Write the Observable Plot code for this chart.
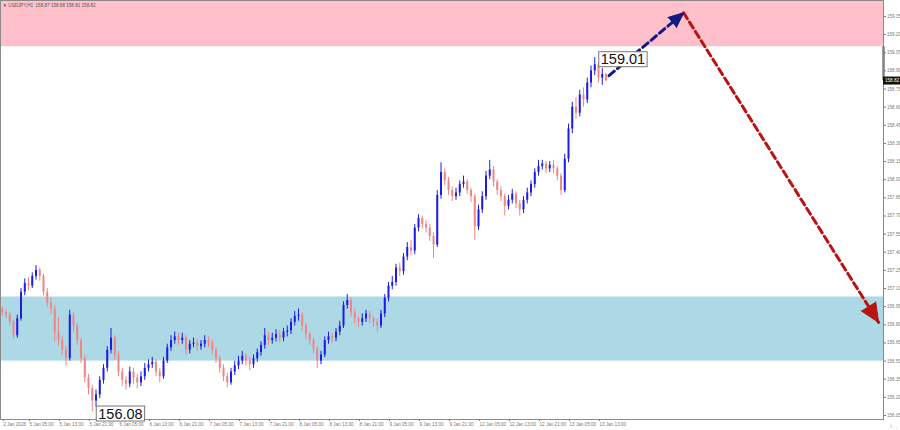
<!DOCTYPE html>
<html><head><meta charset="utf-8">
<script src="https://cdn.jsdelivr.net/npm/d3@7"></script>
<script src="https://cdn.jsdelivr.net/npm/@observablehq/plot@0.6"></script>
<style>
html,body{margin:0;padding:0;background:#fff;}
#chart{width:900px;height:430px;overflow:hidden;position:relative;}
#chart svg{font-family:"Liberation Sans",Arial,sans-serif;}
</style>
</head><body><div id="chart"></div>
<script>
// ---------- data ----------
const symbolTitle = "USDJPY,H1";
const firstOpen = 156.93;
const closes = [
156.90,156.88,156.82,156.71,156.85,157.07,157.14,157.12,157.20,157.25,
157.20,157.07,156.98,156.93,156.74,156.67,156.59,156.52,156.88,156.79,
156.67,156.52,156.36,156.27,156.17,156.22,156.34,156.44,156.59,156.69,
156.55,156.41,156.34,156.31,156.41,156.36,156.32,156.37,156.44,156.47,
156.49,156.41,156.37,156.50,156.61,156.67,156.70,156.67,156.69,156.59,
156.64,156.65,156.62,156.64,156.67,156.65,156.59,156.52,156.44,156.37,
156.32,156.41,156.46,156.50,156.54,156.50,156.47,156.52,156.57,156.63,
156.71,156.67,156.69,156.72,156.69,156.74,156.75,156.82,156.87,156.88,
156.79,156.72,156.67,156.60,156.50,156.55,156.67,156.70,156.69,156.74,
156.79,156.96,157.00,156.90,156.85,156.82,156.85,156.89,156.85,156.82,
156.79,156.89,157.02,157.12,157.15,157.27,157.24,157.36,157.44,157.41,
157.60,157.68,157.63,157.60,157.53,157.46,157.87,158.06,157.99,157.91,
157.86,157.89,157.96,157.98,157.91,157.86,157.61,157.75,157.86,158.03,
158.08,157.98,157.91,157.86,157.78,157.83,157.88,157.80,157.75,157.83,
157.89,157.96,158.06,158.11,158.13,158.09,158.12,158.09,158.03,157.91,
158.17,158.42,158.60,158.55,158.70,158.66,158.80,158.90,158.95,158.84,
158.87,158.82
];
const highs = [
156.95,156.92,156.90,156.84,156.88,157.10,157.18,157.19,157.23,157.29,
157.27,157.22,157.10,157.02,156.96,156.86,156.70,156.62,156.92,156.90,
156.81,156.69,156.55,156.39,156.30,156.26,156.37,156.47,156.62,156.77,
156.71,156.58,156.44,156.37,156.45,156.44,156.39,156.41,156.48,156.51,
156.53,156.51,156.44,156.53,156.64,156.71,156.74,156.73,156.73,156.71,
156.67,156.69,156.68,156.67,156.71,156.70,156.67,156.61,156.54,156.47,
156.40,156.44,156.50,156.54,156.58,156.56,156.53,156.55,156.60,156.66,
156.77,156.74,156.73,156.76,156.75,156.77,156.79,156.85,156.91,156.93,
156.90,156.81,156.74,156.69,156.62,156.58,156.70,156.74,156.73,156.77,
156.83,156.99,157.05,157.02,156.93,156.87,156.89,156.92,156.91,156.87,
156.85,156.92,157.05,157.15,157.20,157.30,157.31,157.39,157.48,157.50,
157.63,157.71,157.70,157.66,157.63,157.56,157.91,158.14,158.09,158.02,
157.94,157.93,157.99,158.03,158.00,157.93,157.88,157.79,157.90,158.07,
158.16,158.11,158.00,157.94,157.88,157.87,157.92,157.90,157.83,157.86,
157.93,157.99,158.09,158.16,158.16,158.15,158.15,158.16,158.11,158.05,
158.21,158.46,158.64,158.68,158.74,158.76,158.84,158.94,159.01,158.97,
158.92,158.88
];
const lows = [
156.87,156.85,156.79,156.68,156.69,156.83,157.04,157.08,157.10,157.17,
157.16,157.04,156.95,156.88,156.66,156.62,156.55,156.46,156.50,156.74,
156.63,156.48,156.32,156.22,156.08,156.12,156.19,156.31,156.41,156.56,
156.51,156.37,156.29,156.26,156.28,156.31,156.27,156.29,156.34,156.41,
156.44,156.37,156.32,156.35,156.48,156.58,156.64,156.63,156.64,156.55,
156.56,156.61,156.58,156.59,156.61,156.61,156.55,156.48,156.40,156.33,
156.28,156.30,156.38,156.43,156.47,156.46,156.42,156.44,156.49,156.54,
156.60,156.63,156.64,156.66,156.65,156.66,156.70,156.72,156.79,156.83,
156.75,156.68,156.63,156.56,156.44,156.47,156.53,156.64,156.65,156.66,
156.71,156.77,156.93,156.86,156.81,156.78,156.79,156.82,156.81,156.78,
156.74,156.77,156.86,156.99,157.09,157.12,157.20,157.21,157.33,157.37,
157.38,157.57,157.59,157.56,157.49,157.35,157.44,157.84,157.95,157.87,
157.82,157.83,157.86,157.93,157.88,157.81,157.50,157.58,157.72,157.83,
158.00,157.94,157.87,157.82,157.70,157.75,157.80,157.76,157.70,157.72,
157.80,157.86,157.93,158.03,158.08,158.05,158.06,158.05,157.99,157.87,
157.89,158.14,158.38,158.50,158.52,158.60,158.63,158.76,158.86,158.80,
158.78,158.81
];
const timeLabels = ["2 Jan 2026","5 Jan 05:00","5 Jan 13:00","5 Jan 21:00","6 Jan 05:00","6 Jan 13:00","6 Jan 21:00","7 Jan 05:00","7 Jan 13:00","7 Jan 21:00","8 Jan 05:00","8 Jan 13:00","8 Jan 21:00","9 Jan 05:00","9 Jan 13:00","9 Jan 21:00","12 Jan 05:00","12 Jan 13:00","12 Jan 21:00","13 Jan 05:00","13 Jan 13:00"];
const timeLabelBar = [0,7,15,23,31,39,47,55,63,71,79,87,95,103,111,119,127,135,143,151,159];
const priceTicks = [156.05,156.20,156.35,156.50,156.65,156.80,156.95,157.10,157.25,157.40,157.55,157.70,157.85,158.00,158.15,158.30,158.45,158.60,158.75,158.90,159.05,159.20,159.35];
const resistanceZone = [159.10, 159.48];
const supportZone = [156.50, 157.03];
const forecastBar = [161.8, 181.7, 233.7];
const forecastPrice = [158.86, 159.38, 156.82];

// ---------- layout & style ----------
const W = 900, H = 430, mRight = 17, mBottom = 11;
const xDomain = [-0.47, 235];
const yDomain = [156.017, 159.482];
const bullColor = "#1c1ce6", bearColor = "#f08585";
const upArrowColor = "#141a80", downArrowColor = "#b81414";
const small = 4.6;
const bigFont = 14.5;

const candles = closes.map((c, i) => ({i, open: i === 0 ? firstOpen : closes[i - 1], high: highs[i], low: lows[i], close: c}));
const bull = candles.filter(d => d.close >= d.open);
const bear = candles.filter(d => d.close < d.open);
const last = candles[candles.length - 1];

let hi = candles[0], lo = candles[0];
for (const d of candles) { if (d.high > hi.high) hi = d; if (d.low < lo.low) lo = d; }
const extremes = [{i: hi.i, p: hi.high, low: false}, {i: lo.i, p: lo.low, low: true}];

const xs = Plot.scale({x: {domain: xDomain, range: [0, W - mRight]}});
const ys = Plot.scale({y: {domain: yDomain, range: [H - mBottom, 0]}});
const heading = (a, b) => Math.atan2(xs.apply(b.i) - xs.apply(a.i), -(ys.apply(b.p) - ys.apply(a.p))) * 180 / Math.PI;
const fc = forecastBar.map((i, k) => ({i, p: forecastPrice[k]}));
const upSeg = [fc[0], fc[1]], downSeg = [fc[1], fc[2]];
const upHead = [{...fc[1], rot: heading(fc[0], fc[1])}];
const downHead = [{...fc[2], rot: heading(fc[1], fc[2])}];

const titleText = `▼ ${symbolTitle}  ${last.open.toFixed(2)} ${last.high.toFixed(2)} ${last.low.toFixed(2)} ${last.close.toFixed(2)}`;

const chart = Plot.plot({
  width: W, height: H,
  marginLeft: 0, marginTop: 0, marginRight: mRight, marginBottom: mBottom,
  x: {domain: xDomain, axis: null},
  y: {domain: yDomain, axis: null},
  style: {background: "#fff", overflow: "visible"},
  marks: [
    Plot.rect([resistanceZone], {x1: xDomain[0], x2: xDomain[1], y1: d => d[0], y2: d => d[1], fill: "#ffc0cb", clip: true}),
    Plot.rect([supportZone], {x1: xDomain[0], x2: xDomain[1], y1: d => d[0], y2: d => d[1], fill: "#add8e6"}),
    Plot.ruleX(bear, {x: "i", y1: "low", y2: "high", stroke: bearColor, strokeWidth: 1}),
    Plot.ruleX(bear, {x: "i", y1: "open", y2: "close", stroke: bearColor, strokeWidth: 2}),
    Plot.ruleX(bull, {x: "i", y1: "low", y2: "high", stroke: bullColor, strokeWidth: 1}),
    Plot.ruleX(bull, {x: "i", y1: "open", y2: "close", stroke: bullColor, strokeWidth: 2}),
    Plot.line(upSeg, {x: "i", y: "p", stroke: upArrowColor, strokeWidth: 3, strokeDasharray: "7,4"}),
    Plot.line(downSeg, {x: "i", y: "p", stroke: downArrowColor, strokeWidth: 3, strokeDasharray: "7,4"}),
    Plot.vector(upHead, {x: "i", y: "p", rotate: "rot", length: 15, r: 6.5, shape: "spike", anchor: "end", fill: upArrowColor, stroke: upArrowColor, strokeWidth: 1}),
    Plot.vector(downHead, {x: "i", y: "p", rotate: "rot", length: 19, r: 8.5, shape: "spike", anchor: "end", fill: downArrowColor, stroke: downArrowColor, strokeWidth: 1}),
    Plot.frame({stroke: "#8a8a8a"}),
    Plot.ruleX([last], {x: xDomain[1], y1: resistanceZone[0], y2: "close", stroke: "#808080", strokeWidth: 2.5}),
    Plot.axisY(priceTicks, {anchor: "right", tickFormat: d => d.toFixed(2), tickSize: 2, tickPadding: 1.5, fontSize: small, color: "#777"}),
    Plot.axisX(timeLabelBar, {anchor: "bottom", tickFormat: d => timeLabels[timeLabelBar.indexOf(d)], textAnchor: "start", dx: 1, tickSize: 2, tickPadding: 1.5, fontSize: small, color: "#777"}),
    Plot.ruleY([last], {y: "close", x1: xDomain[1], x2: xDomain[1] + 4.6, stroke: "#111", strokeWidth: 8}),
    Plot.text([last], {y: "close", x: xDomain[1], text: d => d.close.toFixed(2), dx: 8.5, fill: "#fff", fontSize: small}),
    Plot.text([titleText], {frameAnchor: "top-left", dx: 2, dy: 3, fontSize: small, fill: "#555", textAnchor: "start"}),
    Plot.text(extremes, {x: "i", y: "p", text: d => d.p.toFixed(2), textAnchor: "start", dx: 6, dy: 2, fontSize: bigFont, fill: "#111"})
  ]
});
document.getElementById("chart").appendChild(chart);
// white boxes with grey border behind the extreme price labels
d3.select(chart).selectAll('g[aria-label="text"]')
  .filter(function () { return +this.getAttribute("font-size") === bigFont; })
  .selectAll("text")
  .each(function () {
    const b = this.getBBox();
    const box = document.createElementNS("http://www.w3.org/2000/svg", "rect");
    const tr = this.getAttribute("transform");
    if (tr) box.setAttribute("transform", tr);
    box.setAttribute("x", b.x - 2);
    box.setAttribute("y", b.y + 0.5);
    box.setAttribute("width", b.width + 4);
    box.setAttribute("height", b.height - 1);
    box.setAttribute("fill", "#fff");
    box.setAttribute("stroke", "#777");
    box.setAttribute("stroke-width", "1");
    this.parentNode.insertBefore(box, this);
  });
</script>
</body></html>
